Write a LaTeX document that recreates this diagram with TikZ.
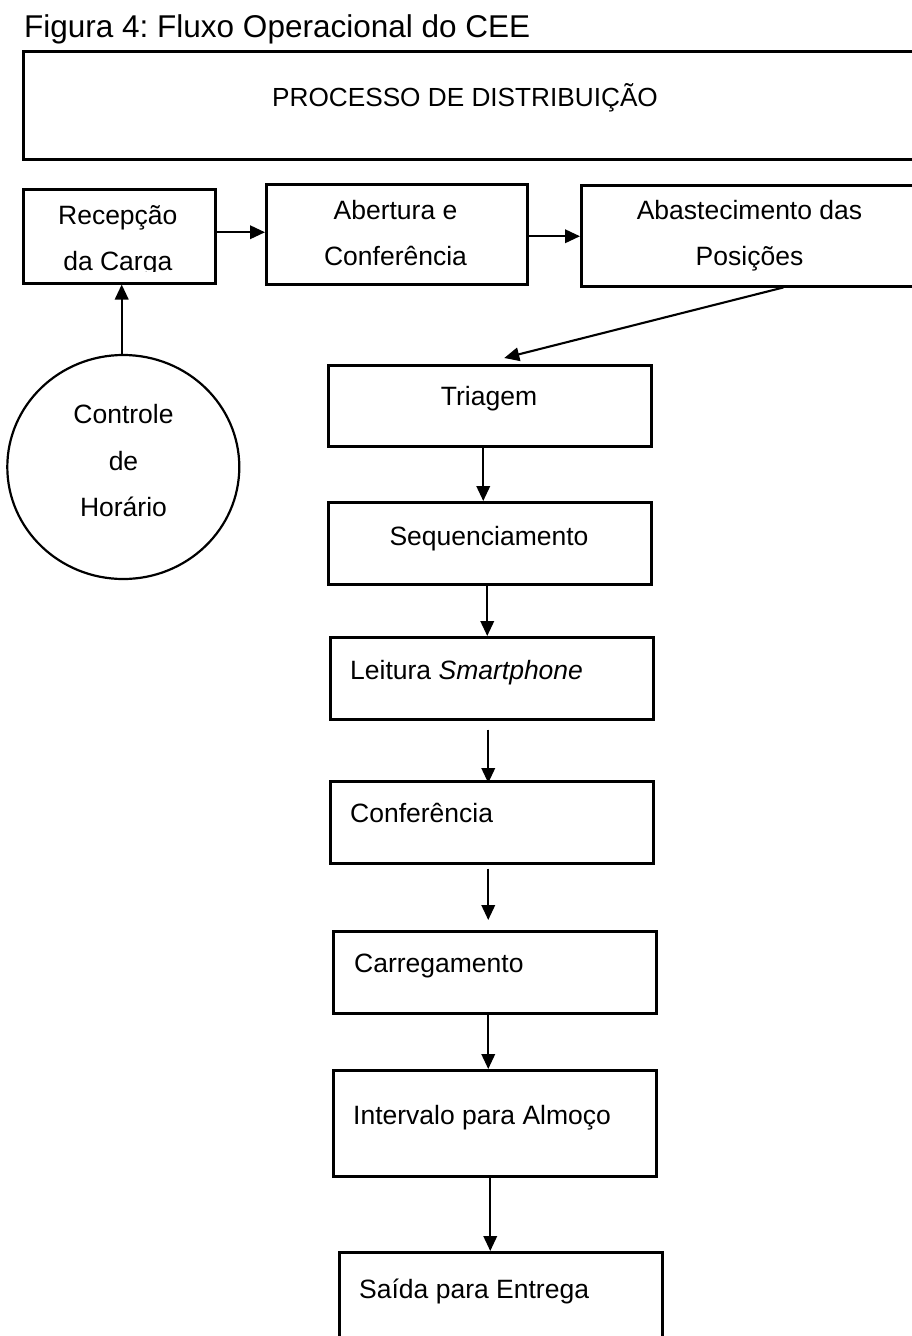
\documentclass[tikz,border=0pt]{standalone}
\usepackage{fontspec}
\setmainfont{Liberation Sans}
\usetikzlibrary{arrows.meta,shapes.geometric}
\frenchspacing
\begin{document}
\begin{tikzpicture}[x=1pt,y=-1pt,
  box/.style={draw,line width=2.5pt,inner sep=0pt,anchor=north west},
  lbl/.style={inner sep=0pt,font=\fontsize{26.5}{31}\selectfont},
  arr/.style={line width=2.1pt,-{Triangle[length=15pt,width=13.5pt]}}]
\useasboundingbox (0,0) rectangle (912,1336);
\clip (0,0) rectangle (912,1336);
% title
\node[lbl,font=\fontsize{31.5}{36}\selectfont,anchor=base west] (title) at (24,37) {Figura 4: Fluxo Operacional do CEE};
% boxes
\node[box,minimum width=908pt,minimum height=108pt] (proc) at (22,50) {};
\node[box,minimum width=192pt,minimum height=94pt] (recep) at (22,188) {};
\node[box,minimum width=261pt,minimum height=100pt] (abert) at (265,183) {};
\node[box,minimum width=350pt,minimum height=101pt] (abast) at (580,184) {};
\node[draw,line width=2.2pt,ellipse,inner sep=0pt,minimum width=232pt,minimum height=224pt] (clock) at (123.3,467) {};
\node[box,minimum width=323pt,minimum height=81pt] (triag) at (327,364) {};
\node[box,minimum width=323pt,minimum height=82pt] (seq) at (327,501) {};
\node[box,minimum width=323pt,minimum height=82pt] (leit) at (329,636) {};
\node[box,minimum width=323pt,minimum height=82pt] (conf) at (329,780) {};
\node[box,minimum width=323pt,minimum height=82pt] (carr) at (332,930) {};
\node[box,minimum width=323pt,minimum height=106pt] (interv) at (332,1069) {};
\node[box,minimum width=323pt,minimum height=110pt] (saida) at (338,1251) {};
% texts
\node[lbl,font=\fontsize{26.2}{31}\selectfont,anchor=base] (tproc) at (465,106) {PROCESSO DE DISTRIBUIÇÃO};
\node[lbl,anchor=base] (trecep1) at (117.8,224.3) {Recepção};
\begin{scope}
\clip (22,250) rectangle (214,271);
\node[lbl,anchor=base] (trecep2) at (117.8,270) {da Carga};
\end{scope}
\node[lbl,anchor=base] (tabert1) at (395.5,219.5) {Abertura e};
\node[lbl,anchor=base] (tabert2) at (395.5,265.5) {Conferência};
\node[lbl,anchor=base] (tabast1) at (749.5,219.3) {Abastecimento das};
\node[lbl,anchor=base] (tabast2) at (749.5,265) {Posições};
\node[lbl,anchor=base] (tclock1) at (123.5,423.3) {Controle};
\node[lbl,anchor=base] (tclock2) at (123.5,470) {de};
\node[lbl,anchor=base] (tclock3) at (123.5,516) {Horário};
\node[lbl,anchor=base] (ttriag) at (489,405.7) {Triagem};
\node[lbl,anchor=base] (tseq) at (489,545) {Sequenciamento};
\node[lbl,anchor=base west] (tleit) at (350,679.3) {Leitura \textit{Smartphone}};
\node[lbl,anchor=base west] (tconf) at (350,822.7) {Conferência};
\node[lbl,anchor=base west] (tcarr) at (354,972.7) {Carregamento};
\node[lbl,anchor=base west] (tinterv) at (353,1124) {Intervalo para Almoço};
\node[lbl,anchor=base west] (tsaida) at (359,1298) {Saída para Entrega};
% connectors
\draw[arr] ([yshift=4pt]recep.east) -- ([yshift=4pt]recep.east -| abert.west);
\draw[arr] ([yshift=-2pt]abert.east) -- ([yshift=-2pt]abert.east -| abast.west);
\draw[arr] ([xshift=-1.6pt]clock.north) -- ([xshift=-1.6pt]clock.north |- recep.south);
\draw[arr] ([xshift=27pt]abast.south) -- ([xshift=14.5pt,yshift=6pt]triag.north);
\draw[arr] ([xshift=-6.5pt]triag.south) -- ([xshift=-6.5pt]triag.south |- seq.north);
\draw[arr] ([xshift=-2.5pt]seq.south) -- ([xshift=-2.5pt]seq.south |- leit.north);
\draw[arr] ([xshift=-3.5pt,yshift=-9pt]leit.south) -- ([xshift=-3.5pt,yshift=-3pt]conf.north);
\draw[arr] ([xshift=-3.5pt,yshift=-4pt]conf.south) -- ([xshift=-6.5pt,yshift=10pt]carr.north);
\draw[arr] ([xshift=-6.5pt]carr.south) -- ([xshift=-6.5pt]carr.south |- interv.north);
\draw[arr] ([xshift=-4.5pt]interv.south) -- ([xshift=-4.5pt]interv.south |- saida.north);
\end{tikzpicture}
\end{document}
